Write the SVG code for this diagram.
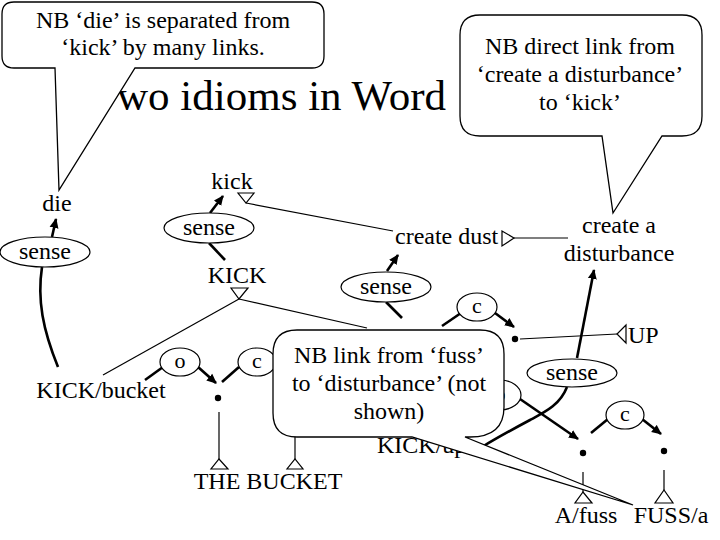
<svg xmlns="http://www.w3.org/2000/svg" width="720" height="540" viewBox="0 0 720 540" font-family="'Liberation Serif', 'DejaVu Serif', serif">
<defs>
<marker id="ah" viewBox="0 0 10 10" refX="9" refY="5" markerWidth="10" markerHeight="10" markerUnits="userSpaceOnUse" orient="auto"><path d="M0,0.5 L10,5 L0,9.5 z" fill="#000"/></marker>
<style>
text{font-family:'Liberation Serif','DejaVu Serif',serif;font-size:24px;fill:#000}
.m{text-anchor:middle}
.sm{font-size:22px}
.thin{stroke:#000;stroke-width:1.2;fill:none}
.thick{stroke:#000;stroke-width:2.6;fill:none}
.arr{marker-end:url(#ah)}
.tri{fill:#fff;stroke:#000;stroke-width:1.2}
.ell{fill:#fff;stroke:#000;stroke-width:1.2}
.call{fill:#fff;stroke:#000;stroke-width:1.3}
</style>
</defs>
<rect width="720" height="540" fill="#fff"/>
<text id="title" x="117" y="110" style="font-size:43px">wo idioms in Word</text>

<g id="connectors">
<line class="thin" x1="246" y1="203" x2="393" y2="231"/>
<line class="thin" x1="239" y1="299" x2="103" y2="375"/>
<line class="thin" x1="239" y1="299" x2="367" y2="328"/>
<line class="thin" x1="514" y1="238" x2="568" y2="238"/>
<line class="thin" x1="520" y1="339" x2="617" y2="334"/>
<line class="thin" x1="219" y1="412" x2="219" y2="459"/>
<line class="thin" x1="295" y1="400" x2="295" y2="459"/>
<line class="thin" x1="583" y1="472" x2="583" y2="492"/>
<line class="thin" x1="664" y1="470" x2="664" y2="490"/>
<line class="thick arr" x1="52" y1="237" x2="56" y2="219"/>
<line class="thick arr" x1="210" y1="213" x2="223" y2="196"/>
<line class="thick arr" x1="387" y1="271" x2="398" y2="255"/>
<line class="thick arr" x1="577" y1="358" x2="594" y2="270"/>
<line class="thick arr" x1="198" y1="367" x2="216" y2="383"/>
<line class="thick arr" x1="495" y1="313" x2="514" y2="327"/>
<line class="thick arr" x1="520" y1="399" x2="578" y2="439"/>
<line class="thick arr" x1="642" y1="419" x2="661" y2="434"/>
<path class="thick" d="M42,267 C37,300 43,330 58,367"/>
<line class="thick" x1="225" y1="260" x2="209" y2="243"/>
<line class="thick" x1="402" y1="318" x2="386" y2="302"/>
<line class="thick" x1="163" y1="367" x2="145" y2="380"/>
<line class="thick" x1="239" y1="367" x2="222" y2="382"/>
<line class="thick" x1="461" y1="313" x2="442" y2="326"/>
<line class="thick" x1="608" y1="419" x2="591" y2="433"/>
<path class="thick" d="M567,387 C560,405 545,412 530,420 C515,428 500,436 482,447"/>
<polygon class="tri" points="238,193 254,193 246,203"/>
<polygon class="tri" points="231,288 248,288 239,299"/>
<polygon class="tri" points="502,231 502,246 514,238"/>
<polygon class="tri" points="626,325 626,343 617,334"/>
<polygon class="tri" points="211,469 228,469 219,459"/>
<polygon class="tri" points="287,469 303,469 295,459"/>
<polygon class="tri" points="575,503 592,503 583,492"/>
<polygon class="tri" points="655,503 673,503 664,490"/>
<circle cx="218" cy="398" r="3.2"/>
<circle cx="515" cy="339" r="3.2"/>
<circle cx="583" cy="453" r="3.2"/>
<circle cx="664" cy="451" r="3.2"/>
</g>

<g id="die"><text class="m" x="57" y="211">die</text></g>
<g id="sense1"><ellipse class="ell" cx="45" cy="252" rx="45" ry="15"/><text class="m" x="45" y="259">sense</text></g>
<g id="kick"><text class="m" x="232" y="189">kick</text></g>
<g id="sense2"><ellipse class="ell" cx="209" cy="228" rx="45" ry="15"/><text class="m" x="209" y="235">sense</text></g>
<g id="KICK"><text class="m" x="237" y="283">KICK</text></g>
<g id="kickbucket"><text class="m" x="101" y="398">KICK/bucket</text></g>
<g id="o1"><ellipse class="ell" cx="180" cy="362" rx="20" ry="14"/><text class="m sm" x="180" y="368">o</text></g>
<g id="c2"><ellipse class="ell" cx="257" cy="362" rx="19" ry="14"/><text class="m sm" x="257" y="368">c</text></g>
<g id="thebucket"><text class="m" x="268" y="489">THE BUCKET</text></g>
<g id="createdust"><text x="395" y="244">create dust</text></g>
<g id="sense3"><ellipse class="ell" cx="386" cy="287" rx="45" ry="15"/><text class="m" x="386" y="294">sense</text></g>
<g id="disturbance"><text class="m" x="619" y="233">create a</text><text class="m" x="619" y="261">disturbance</text></g>
<g id="c3"><ellipse class="ell" cx="477" cy="307" rx="20" ry="14"/><text class="m sm" x="477" y="313">c</text></g>
<g id="UP"><text x="628" y="343">UP</text></g>
<g id="sense5"><ellipse class="ell" cx="572" cy="373" rx="45" ry="14"/><text class="m" x="572" y="380">sense</text></g>
<g id="o5"><ellipse class="ell" cx="500" cy="395" rx="21" ry="15"/><text class="m sm" x="500" y="401">o</text></g>
<g id="c6"><ellipse class="ell" cx="625" cy="415" rx="19" ry="14"/><text class="m sm" x="625" y="421">c</text></g>
<g id="kickup"><text x="377" y="453">KICK/up</text></g>
<g id="afuss"><text class="m" x="586" y="523">A/fuss</text></g>
<g id="fussa"><text class="m" x="671" y="523">FUSS/a</text></g>

<g id="callout1">
<path class="call" d="M14,2 H312 Q324,2 324,14 V56 Q324,68 312,68 H135 L59,190 L55,68 H14 Q2,68 2,56 V14 Q2,2 14,2 Z"/>
<text class="m" x="163" y="28">NB ‘die’ is separated from</text>
<text class="m" x="163" y="55">‘kick’ by many links.</text>
</g>
<g id="callout2">
<path class="call" d="M480,15 H682 Q702,15 702,35 V116 Q702,136 682,136 H662 L613,213 L602,136 H480 Q460,136 460,116 V35 Q460,15 480,15 Z"/>
<text class="m" x="580" y="54">NB direct link from</text>
<text class="m" x="580" y="82">‘create a disturbance’</text>
<text class="m" x="580" y="110">to ‘kick’</text>
</g>
<g id="callout3">
<path class="call" d="M297,330 H480 Q504,330 504,354 V407 Q504,437 470,437 H465 L633,505 L412,437 H297 Q273,437 273,413 V354 Q273,330 297,330 Z"/>
<text class="m" x="389" y="363">NB link from ‘fuss’</text>
<text class="m" x="389" y="391">to ‘disturbance’ (not</text>
<text class="m" x="389" y="419">shown)</text>
</g>
</svg>
